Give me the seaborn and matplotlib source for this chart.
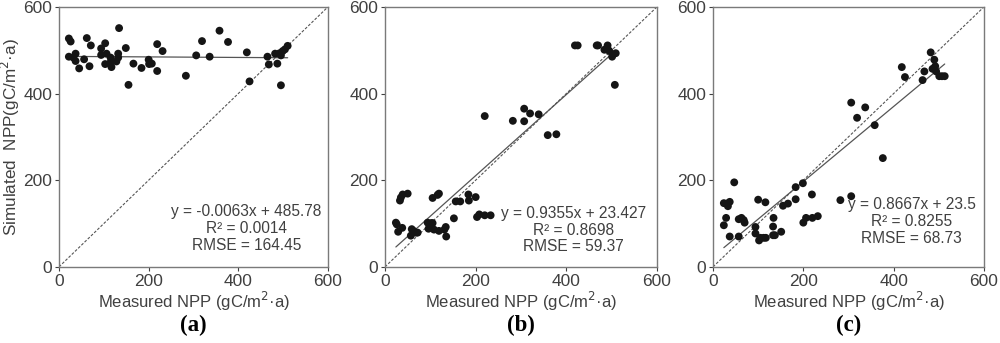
import matplotlib
matplotlib.use("Agg")
import matplotlib.pyplot as plt
import seaborn as sns
import numpy as np
import pandas as pd

sns.set_theme(style="white")
plt.rcParams['font.family'] = ['Liberation Sans', 'DejaVu Sans']

# ---- data: panel (a)
a_x = [22, 26, 22, 32, 37, 37, 45, 56, 62, 68, 71, 94, 94, 103, 103, 106, 115, 115, 117, 128,
       132, 132, 134, 149, 155, 166, 184, 200, 201, 207, 219, 219, 231, 283, 306, 319, 336, 358,
       377, 419, 425, 465, 468, 482, 487, 492, 495, 495, 499, 504, 510]
a_y = [527, 520, 485, 483, 492, 475, 458, 479, 528, 463, 511, 504, 489, 516, 468, 492, 483, 472, 461, 474,
       492, 483, 551, 505, 420, 469, 459, 478, 468, 469, 514, 452, 498, 441, 488, 521, 485, 545,
       519, 495, 428, 485, 467, 492, 469, 493, 488, 419, 498, 502, 510]
# ---- data: panel (b)
b_x = [24, 26, 29, 33, 35, 39, 50, 38, 57, 59, 63, 68, 72, 94, 96, 102, 105, 105, 108, 116, 119, 119,
       131, 134, 135, 152, 156, 166, 184, 185, 200, 203, 208, 220, 233, 220, 282, 307, 307, 320, 339,
       359, 378, 419, 425, 467, 470, 484, 491, 492, 495, 501, 509, 507]
b_y = [102, 98, 81, 153, 160, 167, 169, 90, 72, 87, 83, 79, 79, 102, 88, 101, 159, 101, 86, 166, 169, 83,
       86, 92, 70, 112, 151, 151, 167, 153, 161, 115, 121, 119, 119, 348, 337, 365, 336, 354, 352,
       304, 306, 511, 511, 511, 511, 501, 511, 501, 498, 485, 493, 420]
# ---- data: panel (c)
c_x = [24, 24, 29, 31, 33, 37, 37, 47, 57, 57, 63, 68, 70, 94, 94, 100, 102, 105, 112, 117, 116,
       133, 134, 133, 137, 151, 155, 166, 183, 183, 199, 200, 206, 219, 220, 232, 282, 306, 306,
       319, 337, 358, 376, 418, 425, 464, 468, 482, 486, 490, 492, 494, 501, 507, 513]
c_y = [96, 147, 113, 146, 140, 150, 70, 195, 110, 70, 113, 108, 102, 92, 77, 155, 61, 67, 67, 67, 149,
       93, 113, 73, 73, 81, 141, 146, 184, 156, 193, 102, 113, 167, 113, 117, 154, 163, 379,
       344, 368, 327, 251, 461, 438, 431, 451, 495, 457, 478, 463, 451, 440, 440, 440]

slopes = [-0.0063, 0.9355, 0.8667]
intercepts = [485.78, 23.427, 23.5]
r2 = ["0.0014", "0.8698", "0.8255"]
rmse = ["164.45", "59.37", "68.73"]
eq_text = ["y = -0.0063x + 485.78", "y = 0.9355x + 23.427", "y = 0.8667x + 23.5"]
panel_letters = ["(a)", "(b)", "(c)"]
ticks = [0, 200, 400, 600]

xs = [a_x, b_x, c_x]
ys = [a_y, b_y, c_y]
text_pos = [(418, 88), (416, 85), (440, 105)]

fig = plt.figure(figsize=(10, 3.43), dpi=100)
lefts = [0.059, 0.385, 0.713]
widths = [0.269, 0.272, 0.271]
grey = "#404040"

for i in range(3):
    ax = fig.add_axes([lefts[i], 0.222, widths[i], 0.758])
    df = pd.DataFrame({"x": xs[i], "y": ys[i]})
    # 1:1 line
    sns.lineplot(x=[0, 600], y=[0, 600], ax=ax, color="#555555", lw=0.8,
                 linestyle=(0, (2.5, 1.5)), zorder=1)
    # fit line
    fx = np.array([min(xs[i]), max(xs[i])])
    fy = slopes[i] * fx + intercepts[i]
    sns.lineplot(x=fx, y=fy, ax=ax, color="#555555", lw=0.9, zorder=2)
    sns.scatterplot(data=df, x="x", y="y", ax=ax, color="#151515", s=32,
                    edgecolor="none", zorder=3)
    ax.set_xlim(0, 600)
    ax.set_ylim(0, 600)
    ax.set_xticks(ticks)
    ax.set_yticks(ticks)
    ax.tick_params(axis="both", labelsize=12.5, colors=grey, length=3, width=0.8,
                   direction="out", pad=2, bottom=True, left=True)
    for sp in ax.spines.values():
        sp.set_color("#7a7a7a")
        sp.set_linewidth(1.0)
    ax.set_xlabel("Measured NPP (gC/m$^{2}$·a)", fontsize=12, color=grey, labelpad=1)
    if i == 0:
        ax.set_ylabel("Simulated  NPP(gC/m$^{2}$·a)", fontsize=12.3, color=grey, labelpad=1)
    else:
        ax.set_ylabel("")
    tx, ty = text_pos[i]
    ax.text(tx, ty, f"{eq_text[i]}\nR² = {r2[i]}\nRMSE = {rmse[i]}", ha="center",
            va="center", fontsize=11.2, color=grey, linespacing=1.15, zorder=4)
    fig.text(lefts[i] + widths[i] / 2, 0.05, panel_letters[i], ha="center", va="center",
             fontsize=16.5, fontweight="bold", family="Liberation Serif", color="black")

fig.savefig("out.png", dpi=100)
